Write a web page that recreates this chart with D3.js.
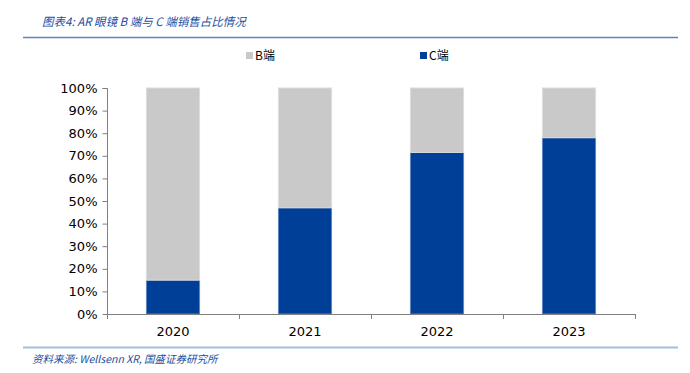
<!DOCTYPE html>
<html>
<head>
<meta charset="utf-8">
<script src="https://cdn.jsdelivr.net/npm/d3@7"></script>
<style>
body { margin: 0; background: #fff; }
svg text { font-family: "DejaVu Sans", Verdana, sans-serif; }
</style>
</head>
<body>
<svg width="690" height="373"></svg>
<script>
// chart data
var years = ["2020", "2021", "2022", "2023"];
var cShare = [0.15, 0.47, 0.715, 0.78];
var bShare = [0.85, 0.53, 0.285, 0.22];
var seriesNames = ["B端", "C端"];
var yTicks = [0, 0.1, 0.2, 0.3, 0.4, 0.5, 0.6, 0.7, 0.8, 0.9, 1];

var blue = "#003f98";
var grey = "#c9c9c9";

var svg = d3.select("svg");

// title + top rule
svg.append("text")
	.attr("x", 42).attr("y", 26)
	.attr("font-size", 11.5)
	.attr("font-style", "italic")
	.attr("fill", "#1d4e9e")
	.style("font-family", "'Noto Sans CJK SC', sans-serif")
	.text("图表4:  AR 眼镜 B 端与 C 端销售占比情况");
svg.append("line")
	.attr("x1", 23).attr("x2", 678).attr("y1", 37.5).attr("y2", 37.5)
	.attr("stroke", "#5b82c2").attr("stroke-width", 1.5);

// scales
var x = d3.scaleBand().domain(years).range([107, 635]).paddingInner(0.59).paddingOuter(0.295);
var xEdge = d3.scaleLinear().domain([0, years.length]).range([107, 635]);
var y = d3.scaleLinear().domain([0, 1]).range([314, 88]);

// stacked bars: C on bottom, B on top
var rows = years.map(function(d, i){ return {year: d, C: cShare[i], B: bShare[i]}; });
var stack = d3.stack().keys(["C", "B"])(rows);
var colors = {C: blue, B: grey};
var strokes = {C: "#5f86c4", B: "#dcdcdc"};

stack.forEach(function(layer){
	svg.append("g").selectAll("rect")
		.data(layer)
		.join("rect")
		.attr("x", function(d){ return x(d.data.year) + 0.5; })
		.attr("width", x.bandwidth() - 1)
		.attr("y", function(d){ return y(d[1]); })
		.attr("height", function(d){ return y(d[0]) - y(d[1]); })
		.attr("fill", colors[layer.key])
		.attr("stroke", strokes[layer.key])
		.attr("stroke-width", 1);
});

// y axis
var yAxis = svg.append("g")
	.attr("transform", "translate(107.5,0)")
	.call(d3.axisLeft(y).tickValues(yTicks).tickFormat(d3.format(".0%")).tickSize(5).tickPadding(5));
yAxis.select(".domain").attr("stroke", "#808080").attr("d", "M-5,88.5H0V314");
yAxis.selectAll(".tick line").attr("stroke", "#808080");
yAxis.selectAll("text").attr("font-size", 13).attr("fill", "#000")
	.style("font-family", "'DejaVu Sans', Verdana, sans-serif");

// x axis with category boundary ticks
var xg = svg.append("g");
xg.append("line")
	.attr("x1", 107).attr("x2", 635.5).attr("y1", 314.5).attr("y2", 314.5)
	.attr("stroke", "#808080");
xg.selectAll(".edge")
	.data(d3.range(years.length + 1))
	.join("line")
	.attr("x1", function(d){ return Math.round(xEdge(d)) + 0.5; })
	.attr("x2", function(d){ return Math.round(xEdge(d)) + 0.5; })
	.attr("y1", 314).attr("y2", 319)
	.attr("stroke", "#808080");
xg.selectAll(".lbl")
	.data(years)
	.join("text")
	.attr("x", function(d){ return x(d) + x.bandwidth() / 2; })
	.attr("y", 336)
	.attr("text-anchor", "middle")
	.attr("font-size", 13)
	.text(function(d){ return d; });

// legend
var legend = [{name: seriesNames[0], color: grey, x: 246}, {name: seriesNames[1], color: blue, x: 420}];
var lg = svg.selectAll(".legend")
	.data(legend)
	.join("g")
	.attr("transform", function(d){ return "translate(" + d.x + ",52)"; });
lg.append("rect").attr("width", 7).attr("height", 7).attr("fill", function(d){ return d.color; });
lg.append("text")
	.attr("x", 9).attr("y", 8)
	.attr("font-size", 12)
	.style("font-family", "'Noto Sans CJK SC', sans-serif")
	.text(function(d){ return d.name; });

// bottom rule + source
svg.append("line")
	.attr("x1", 23).attr("x2", 678).attr("y1", 347.5).attr("y2", 347.5)
	.attr("stroke", "#a6bde0").attr("stroke-width", 2);
svg.append("text")
	.attr("x", 32).attr("y", 363)
	.attr("font-size", 10.5)
	.attr("font-style", "italic")
	.attr("fill", "#1d4e9e")
	.style("font-family", "'Noto Sans CJK SC', sans-serif")
	.text("资料来源:  Wellsenn XR, 国盛证券研究所");
</script>
</body>
</html>
